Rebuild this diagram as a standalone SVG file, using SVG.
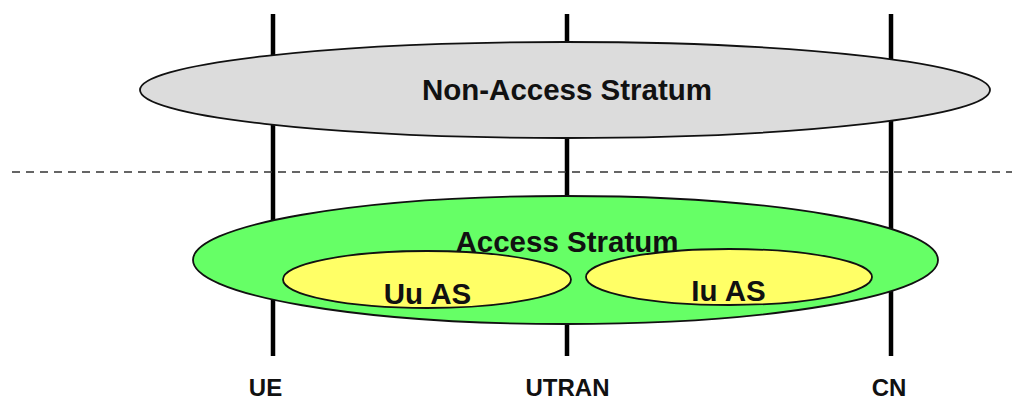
<svg xmlns="http://www.w3.org/2000/svg" width="1012" height="402" viewBox="0 0 1012 402">
<style>
.t{font-family:"Liberation Sans",Arial,sans-serif;font-weight:bold;fill:#111;text-anchor:middle}
.big{font-size:29.5px}
.lab{font-size:24px}
.v{stroke:#000;stroke-width:4.5}
.e{stroke:#111;stroke-width:1.8}
</style>
<rect width="1012" height="402" fill="#fff"/>
<g id="connectors">
<line class="v" x1="273" y1="14" x2="273" y2="356"/>
<line class="v" x1="567" y1="14" x2="567" y2="356"/>
<line class="v" x1="891" y1="14" x2="891" y2="356"/>
<line x1="12" y1="172" x2="1012" y2="172" stroke="#333" stroke-width="1.6" stroke-dasharray="8,6"/>
</g>
<g id="nas">
<ellipse class="e" cx="565" cy="90" rx="425" ry="48" fill="#dcdcdc"/>
<text class="t big" x="567" y="100">Non-Access Stratum</text>
</g>
<g id="as">
<ellipse class="e" cx="565.5" cy="260" rx="372.5" ry="64" fill="#66ff66"/>
<text class="t big" x="567" y="252">Access Stratum</text>
</g>
<g id="uu">
<ellipse class="e" cx="427" cy="279.5" rx="144" ry="28.5" fill="#ffff66"/>
<text class="t big" x="427.5" y="304">Uu AS</text>
</g>
<g id="iu">
<ellipse class="e" cx="729" cy="277" rx="143" ry="28" fill="#ffff66"/>
<text class="t big" x="728.5" y="301">Iu AS</text>
</g>
<g id="ue"><text class="t lab" x="265.5" y="396">UE</text></g>
<g id="utran"><text class="t lab" x="567.5" y="396">UTRAN</text></g>
<g id="cn"><text class="t lab" x="889" y="396">CN</text></g>
</svg>
